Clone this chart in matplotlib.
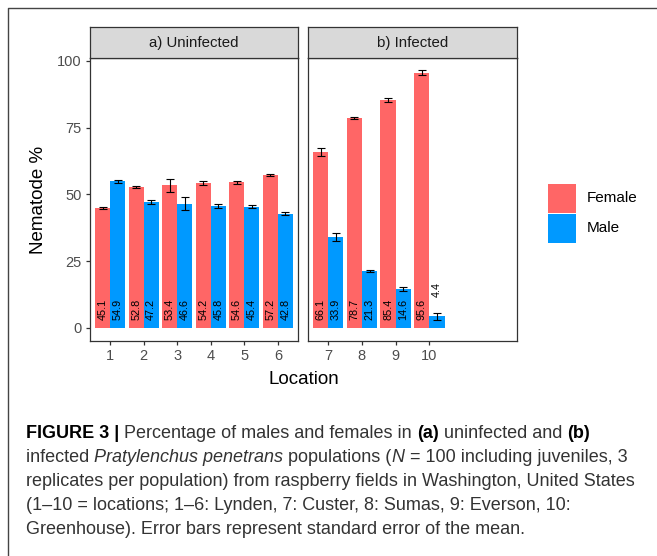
import matplotlib
matplotlib.use("Agg")
import matplotlib.pyplot as plt
from matplotlib.patches import Rectangle
from matplotlib.lines import Line2D
from matplotlib.font_manager import FontProperties

# ---------------- data ----------------
locations = [1, 2, 3, 4, 5, 6, 7, 8, 9, 10]
female = [45.1, 52.8, 53.4, 54.2, 54.6, 57.2, 66.1, 78.7, 85.4, 95.6]
male = [54.9, 47.2, 46.6, 45.8, 45.4, 42.8, 33.9, 21.3, 14.6, 4.4]
female_se = [0.4, 0.5, 2.3, 0.7, 0.5, 0.4, 1.5, 0.5, 0.9, 1.0]
male_se = [0.5, 0.6, 2.4, 0.7, 0.5, 0.5, 1.5, 0.5, 0.9, 1.3]
panel_titles = ["a) Uninfected", "b) Infected"]
panel_locs = [[1, 2, 3, 4, 5, 6], [7, 8, 9, 10]]
series_names = ["Female", "Male"]
series_colors = ["#FF6666", "#0099FF"]
y_ticks = [0, 25, 50, 75, 100]
x_title = "Location"
y_title = "Nematode %"

caption_lines = [
    [("FIGURE 3 | ", "bold"), ("Percentage of males and females in ", "normal"),
     ("(a)", "bold"), (" uninfected and ", "normal"), ("(b)", "bold")],
    [("infected ", "normal"), ("Pratylenchus penetrans", "italic"),
     (" populations (", "normal"), ("N", "italic"),
     (" = 100 including juveniles, 3", "normal")],
    [("replicates per population) from raspberry fields in Washington, United States", "normal")],
    [("(1\u201310 = locations; 1\u20136: Lynden, 7: Custer, 8: Sumas, 9: Everson, 10:", "normal")],
    [("Greenhouse). Error bars represent standard error of the mean.", "normal")],
]

# ---------------- layout ----------------
W, H = 657, 556
plt.rcParams['font.family'] = ['Liberation Sans', 'DejaVu Sans']
fig = plt.figure(figsize=(W / 100, H / 100), dpi=100)

def fx(px):
    return px / W

def fy(py):
    return 1 - py / H

EDGE = "#333333"
TICKC = "#4D4D4D"
panel_px = [(90, 298), (308, 517)]
xlims = [(0.4, 6.6), (6.4, 12.6)]
top_px, bot_px = 58, 341
strip_top = 27
ylim = (-4.87, 101.12)
bw = 0.45

for i, (title, locs) in enumerate(zip(panel_titles, panel_locs)):
    x0, x1 = panel_px[i]
    ax = fig.add_axes([fx(x0), fy(bot_px), (x1 - x0) / W, (bot_px - top_px) / H])
    idx = [locations.index(l) for l in locs]
    fv = [female[k] for k in idx]
    mv = [male[k] for k in idx]
    fe = [female_se[k] for k in idx]
    me = [male_se[k] for k in idx]
    xf = [l - bw / 2 for l in locs]
    xm = [l + bw / 2 for l in locs]
    ax.bar(xf, fv, width=bw, color=series_colors[0], linewidth=0)
    ax.bar(xm, mv, width=bw, color=series_colors[1], linewidth=0)
    for xs, vs, es in ((xf, fv, fe), (xm, mv, me)):
        ax.errorbar(xs, vs, yerr=es, fmt='none', ecolor='black',
                    elinewidth=0.8, capsize=2.6, capthick=0.8, zorder=3)
        for x, v, e in zip(xs, vs, es):
            ylab = 2.9 if v >= 10 else v + e + 5.9
            ax.text(x, ylab, f"{v:.1f}", rotation=90, ha='center', va='bottom',
                    fontsize=7.8, color='black', zorder=4)
    ax.set_xlim(*xlims[i])
    ax.set_ylim(*ylim)
    ax.set_xticks(locs)
    ax.set_xticklabels([str(l) for l in locs])
    ax.tick_params(axis='both', length=2.8, width=0.9, color=EDGE,
                   labelcolor=TICKC, labelsize=10.5, pad=3)
    if i == 0:
        ax.set_yticks(y_ticks)
        ax.set_yticklabels([str(t) for t in y_ticks])
    else:
        ax.set_yticks([])
    for s in ax.spines.values():
        s.set_color(EDGE)
        s.set_linewidth(0.9)
    # strip
    sax = fig.add_axes([fx(x0), fy(top_px), (x1 - x0) / W, (top_px - strip_top) / H])
    sax.set_facecolor("#D9D9D9")
    sax.set_xticks([])
    sax.set_yticks([])
    for s in sax.spines.values():
        s.set_color(EDGE)
        s.set_linewidth(0.9)
    sax.text(0.5, 0.5, title, ha='center', va='center', fontsize=10.8,
             color="#1A1A1A", transform=sax.transAxes)

# axis titles
fig.text(fx(303.5), fy(384.5), x_title, ha='center', va='baseline', fontsize=13.5, color='black')
fig.text(fx(38.5), fy(199.5), y_title, ha='center', va='center', rotation=90,
         fontsize=13.5, color='black')

# legend
key_x, key_w = 548, 28
key_tops = [184, 214]
for name, col, kt in zip(series_names, series_colors, key_tops):
    fig.add_artist(Rectangle((fx(key_x), fy(kt + 29)), key_w / W, 29 / H,
                             transform=fig.transFigure, facecolor=col, edgecolor='none'))
    fig.text(fx(587), fy(kt + 14.5), name, ha='left', va='center', fontsize=11, color='black')

# outer frame (left & top edges)
fig.add_artist(Line2D([fx(7.5), fx(7.5), fx(657)], [fy(556), fy(8.3), fy(8.3)],
                      transform=fig.transFigure, color="#444444", linewidth=1.0))

# caption with mixed styles
renderer = fig.canvas.get_renderer()
cap_x0 = 26
baselines = [438, 462, 486, 510, 534]
ref_prop = FontProperties(family='Liberation Sans', size=11)
w_ref = renderer.get_text_width_height_descent(caption_lines[2][0][0], ref_prop, ismath=False)[0]
cap_size = 11 * 606 / w_ref
cap_color = "#333333"

def props(style):
    if style == "bold":
        return FontProperties(family='Liberation Sans', size=cap_size, weight='bold')
    if style == "italic":
        return FontProperties(family='Liberation Sans', size=cap_size, style='italic')
    return FontProperties(family='Liberation Sans', size=cap_size)

def adv(s, p):
    a = renderer.get_text_width_height_descent(s + "x", p, ismath=False)[0]
    b = renderer.get_text_width_height_descent("x", p, ismath=False)[0]
    return a - b

for line, bl in zip(caption_lines, baselines):
    x = cap_x0
    for txt, style in line:
        p = props(style)
        fig.text(fx(x), fy(bl), txt, fontproperties=p, ha='left', va='baseline',
                 color='black' if style == 'bold' else cap_color)
        x += adv(txt, p)

fig.savefig("out.png", dpi=100)
